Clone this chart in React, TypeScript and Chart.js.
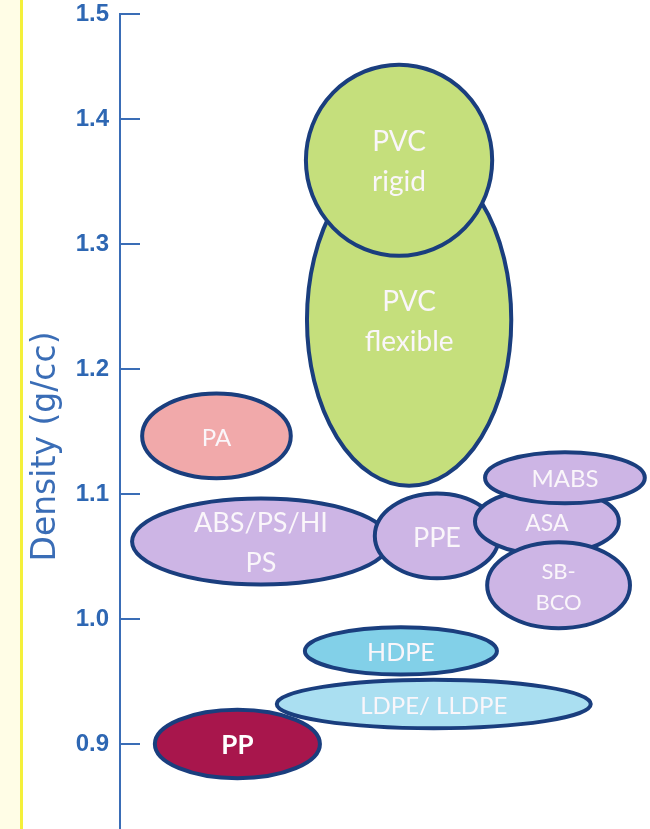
import React, { useEffect, useRef } from 'react';
import { Chart, registerables } from 'chart.js';

Chart.register(...registerables);

// ---- data ----
const materials = ['PVC flexible', 'PVC rigid', 'PA', 'ABS/PS/HI PS', 'PPE', 'ASA', 'MABS', 'SB-BCO', 'HDPE', 'LDPE/ LLDPE', 'PP'];
const labelLines = [['PVC', 'flexible'], ['PVC', 'rigid'], ['PA'], ['ABS/PS/HI', 'PS'], ['PPE'], ['ASA'], ['MABS'], ['SB-', 'BCO'], ['HDPE'], ['LDPE/ LLDPE'], ['PP']];
const densityLow = [1.105, 1.289, 1.111, 1.026, 1.031, 1.05, 1.091, 0.991, 0.954, 0.911, 0.871];
const densityHigh = [1.374, 1.445, 1.182, 1.098, 1.102, 1.106, 1.135, 1.063, 0.995, 0.953, 0.929];
const positionLow = [34.9, 34.7, 3.8, 1.9, 47.7, 66.6, 68.5, 68.9, 34.5, 29.2, 6.2];
const positionHigh = [74.2, 70.6, 32.6, 51.3, 71.9, 94.5, 99.4, 96.6, 71.5, 89.2, 38.1];
const densityTicks = [0.9, 1.0, 1.1, 1.2, 1.3, 1.4];
const axisTitle = 'Density (g/cc)';

// ---- styles ----
const GREEN = '#C5DF7C';
const PINK = '#F1A9AA';
const PURPLE = '#CDB5E5';
const CYAN = '#82D0E8';
const LIGHTCYAN = '#AADFF1';
const RED = '#A8164C';
const fills = [GREEN, GREEN, PINK, PURPLE, PURPLE, PURPLE, PURPLE, PURPLE, CYAN, LIGHTCYAN, RED];
const fontSizes = [28, 28, 24, 27, 27, 23, 24, 22, 25, 24, 26];
const lineGaps = [40, 40, 34, 40, 34, 34, 34, 31, 34, 34, 34];
const boldLabel = [false, false, false, false, false, false, false, false, false, false, true];
const OUTLINE = '#1A3E7E';
const AXIS = '#3A6DB6';
const TICKTEXT = '#2E67B3';

const ellipsePlugin = {
  id: 'materialEllipses',
  afterDatasetsDraw(chart: any) {
    const { ctx } = chart;
    const xs = chart.scales.x;
    const ys = chart.scales.y;
    ctx.save();
    materials.forEach((_m, i) => {
      const x0 = xs.getPixelForValue(positionLow[i]);
      const x1 = xs.getPixelForValue(positionHigh[i]);
      const y0 = ys.getPixelForValue(densityHigh[i]);
      const y1 = ys.getPixelForValue(densityLow[i]);
      const cx = (x0 + x1) / 2;
      const cy = (y0 + y1) / 2;
      const rx = (x1 - x0) / 2 - 2;
      const ry = (y1 - y0) / 2 - 2;
      ctx.beginPath();
      ctx.ellipse(cx, cy, rx, ry, 0, 0, Math.PI * 2);
      ctx.fillStyle = fills[i];
      ctx.fill();
      ctx.lineWidth = 4;
      ctx.strokeStyle = OUTLINE;
      ctx.stroke();
      const lines = labelLines[i];
      ctx.fillStyle = boldLabel[i] ? '#FFFFFF' : '#FAF6FA';
      ctx.font = `${boldLabel[i] ? 'bold ' : ''}${fontSizes[i]}px Lato, "Open Sans", sans-serif`;
      ctx.textAlign = 'center';
      ctx.textBaseline = 'middle';
      const gap = lineGaps[i];
      const startY = cy - ((lines.length - 1) * gap) / 2 + 2;
      lines.forEach((t, k) => ctx.fillText(t, cx, startY + k * gap));
    });
    ctx.restore();
  },
};

export default function App() {
  const ref = useRef<HTMLCanvasElement | null>(null);
  useEffect(() => {
    if (!ref.current) return;
    const chart = new Chart(ref.current, {
      type: 'scatter',
      data: {
        datasets: [
          {
            label: 'Materials',
            data: materials.map((_m, i) => ({
              x: (positionLow[i] + positionHigh[i]) / 2,
              y: (densityLow[i] + densityHigh[i]) / 2,
            })),
            pointRadius: 0,
            pointHoverRadius: 0,
          },
        ],
      },
      options: {
        animation: false,
        responsive: false,
        events: [],
        layout: { padding: { top: 14, left: 0, right: 0, bottom: 0 } },
        plugins: { legend: { display: false }, tooltip: { enabled: false } },
        scales: {
          x: { type: 'linear', display: false, min: 0, max: 100 },
          y: {
            type: 'linear',
            position: 'left',
            min: 0.792,
            max: 1.484,
            afterBuildTicks: (s: any) => {
              s.ticks = [...densityTicks, s.max].map((v) => ({ value: v }));
            },
            afterFit: (s: any) => {
              s.width = 120;
              s.paddingTop = 0;
              s.paddingBottom = 0;
            },
            grid: {
              display: true,
              drawOnChartArea: false,
              drawTicks: true,
              tickLength: -20,
              color: AXIS,
              lineWidth: 2,
            },
            border: { display: true, color: AXIS, width: 2 },
            ticks: {
              padding: 31,
              color: TICKTEXT,
              autoSkip: false,
              font: { family: '"Liberation Sans", Arial, sans-serif', size: 24, weight: 'bold' },
              callback: (v: any) => Number(v).toFixed(1),
            },
            title: {
              display: true,
              text: axisTitle,
              color: AXIS,
              font: { family: '"DejaVu Sans", sans-serif', size: 33, weight: 'normal' },
              padding: { top: 27, bottom: 0 },
            },
          },
        },
      },
      plugins: [ellipsePlugin],
    } as any);
    return () => chart.destroy();
  }, []);

  return (
    <div
      style={{
        position: 'fixed',
        left: 0,
        top: 0,
        width: 650,
        height: 829,
        overflow: 'hidden',
        background: '#FFFFFF',
      }}
    >
      <div style={{ position: 'absolute', left: 0, top: 0, width: 20, height: 829, background: '#FFFDE6' }} />
      <div style={{ position: 'absolute', left: 20, top: 0, width: 3, height: 829, background: '#F4F03A' }} />
      <canvas
        ref={ref}
        width={650}
        height={879}
        style={{ position: 'absolute', left: 0, top: 0, width: 650, height: 879 }}
      />
    </div>
  );
}
